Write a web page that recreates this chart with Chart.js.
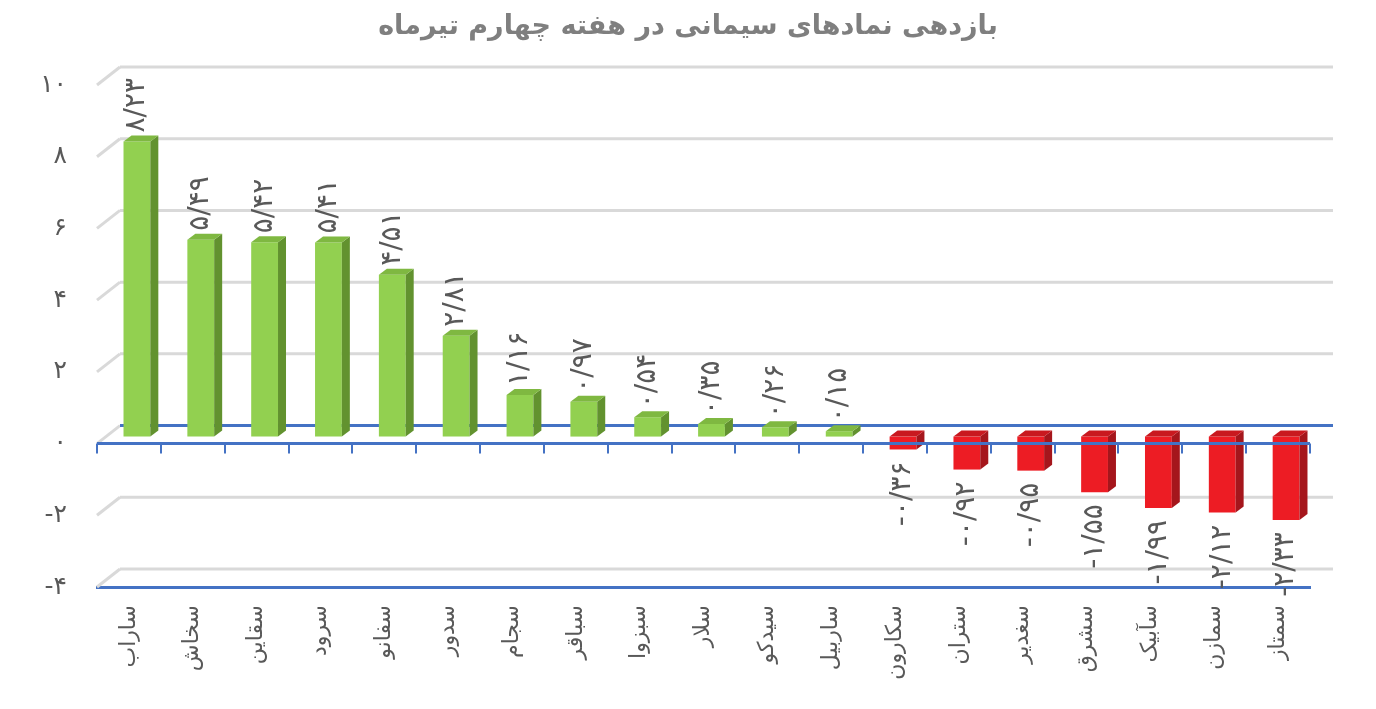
<!DOCTYPE html>
<html>
<head>
<meta charset="utf-8">
<script src="https://cdn.jsdelivr.net/npm/chart.js@4/dist/chart.umd.min.js"></script>
<style>
  body { margin: 0; background: #fff; }
  #wrap { width: 1376px; height: 709px; }
</style>
</head>
<body>
<div id="wrap"><canvas id="chart"></canvas></div>
<script>
const categories = ["ساراب", "سخاش", "سقاین", "سرود", "سفانو", "سدور", "سجام", "سباقر", "سبزوا", "سلار",
  "سیدکو", "ساربیل", "سکارون", "ستران", "سغدیر", "سشرق", "سآبیک", "سمازن", "سمتاز"];
const returns = [8.23, 5.49, 5.42, 5.41, 4.51, 2.81, 1.16, 0.97, 0.54, 0.35, 0.26, 0.15,
  -0.36, -0.92, -0.95, -1.55, -1.99, -2.12, -2.33];
const yTicks = [-4, -2, 0, 2, 4, 6, 8, 10];
const title = "بازدهی نمادهای سیمانی در هفته چهارم تیرماه";

const faDigits = "۰۱۲۳۴۵۶۷۸۹";
function toFa(s) {
  return String(s).replace(/[0-9]/g, d => faDigits[d]).replace(".", "/");
}

const FONT = "'DejaVu Sans', sans-serif";
const wallDx = 23, wallDy = 18;   // back wall offset
const barDx = 8, barDy = -7;      // bars sit mid-depth
const sideDx = 8, sideDy = 6;     // bar depth
const gridGray = "#d9d9d9";
const axisBlue = "#4472c4";

const depth3d = {
  id: "depth3d",
  beforeDraw(chart) {
    const ctx = chart.ctx;
    ctx.save();
    ctx.fillStyle = "#7f7f7f";
    ctx.font = "bold 27px " + FONT;
    ctx.textAlign = "center";
    ctx.textBaseline = "middle";
    ctx.fillText(title, chart.width / 2, 27);
    ctx.restore();
  },
  beforeDatasetsDraw(chart) {
    const { ctx, chartArea: a, scales: { y } } = chart;
    ctx.save();
    ctx.lineWidth = 3;
    yTicks.forEach(v => {
      const py = y.getPixelForValue(v);
      ctx.strokeStyle = gridGray;
      ctx.beginPath();
      ctx.moveTo(a.left, py);
      ctx.lineTo(a.left + wallDx, py - wallDy);
      ctx.stroke();
      ctx.strokeStyle = v === 0 ? axisBlue : gridGray;
      ctx.beginPath();
      ctx.moveTo(a.left + wallDx, py - wallDy);
      ctx.lineTo(a.right + wallDx, py - wallDy);
      ctx.stroke();
    });
    ctx.restore();
    ctx.save();
    ctx.translate(barDx, barDy);
  },
  afterDatasetsDraw(chart) {
    const { ctx, chartArea: a, scales: { y } } = chart;
    const bars = chart.getDatasetMeta(0).data;
    bars.forEach((el, i) => {
      const pos = returns[i] >= 0;
      const l = el.x - el.width / 2, r = el.x + el.width / 2;
      const t = Math.min(el.y, el.base), b = Math.max(el.y, el.base);
      ctx.fillStyle = pos ? "#62922f" : "#a5161c";
      ctx.beginPath();
      ctx.moveTo(r, t); ctx.lineTo(r + sideDx, t - sideDy);
      ctx.lineTo(r + sideDx, b - sideDy); ctx.lineTo(r, b);
      ctx.closePath(); ctx.fill();
      ctx.fillStyle = pos ? "#7fb841" : "#c9191f";
      ctx.beginPath();
      ctx.moveTo(l, t); ctx.lineTo(l + sideDx, t - sideDy);
      ctx.lineTo(r + sideDx, t - sideDy); ctx.lineTo(r, t);
      ctx.closePath(); ctx.fill();
    });
    ctx.restore();

    // front zero line with category ticks
    const y0 = y.getPixelForValue(0);
    ctx.save();
    ctx.strokeStyle = axisBlue;
    ctx.lineWidth = 3;
    ctx.beginPath();
    ctx.moveTo(a.left, y0); ctx.lineTo(a.right, y0);
    ctx.stroke();
    ctx.lineWidth = 2;
    const step = (a.right - a.left) / categories.length;
    for (let i = 0; i <= categories.length; i++) {
      const px = Math.round(a.left + i * step);
      ctx.beginPath();
      ctx.moveTo(px, y0); ctx.lineTo(px, y0 + 10);
      ctx.stroke();
    }

    // value labels
    ctx.fillStyle = "#595959";
    ctx.font = "28px " + FONT;
    ctx.textBaseline = "middle";
    bars.forEach((el, i) => {
      const v = returns[i];
      const px = el.x + barDx;
      ctx.save();
      if (v >= 0) {
        ctx.translate(px, el.y + barDy - sideDy - 3);
        ctx.rotate(-Math.PI / 2);
        ctx.textAlign = "left";
      } else {
        ctx.translate(px, el.y + barDy + 12);
        ctx.rotate(-Math.PI / 2);
        ctx.textAlign = "right";
      }
      ctx.fillText(toFa(v.toFixed(2)), 0, 0);
      ctx.restore();
    });
    ctx.restore();
  }
};

new Chart(document.getElementById("chart"), {
  type: "bar",
  data: {
    labels: categories,
    datasets: [{
      data: returns,
      backgroundColor: returns.map(v => v >= 0 ? "#92d050" : "#ed1c24"),
      barPercentage: 0.42,
      categoryPercentage: 1
    }]
  },
  options: {
    responsive: true,
    maintainAspectRatio: false,
    animation: false,
    layout: { padding: { left: 0, right: 66, top: 85, bottom: 0 } },
    plugins: {
      legend: { display: false },
      tooltip: { enabled: false },
      title: { display: false }
    },
    scales: {
      x: {
        grid: { display: false },
        border: { display: true, color: axisBlue, width: 3 },
        ticks: {
          minRotation: 90, maxRotation: 90,
          padding: 10,
          color: "#595959",
          font: { family: FONT, size: 22 }
        },
        afterFit(scale) { scale.height = 122; }
      },
      y: {
        min: -4, max: 10,
        grid: { display: false },
        border: { display: false },
        afterBuildTicks(scale) { scale.ticks = yTicks.map(v => ({ value: v })); },
        afterFit(scale) { scale.width = 97; },
        ticks: {
          padding: 22,
          color: "#595959",
          font: { family: FONT, size: 25 },
          callback: v => toFa(v)
        }
      }
    }
  },
  plugins: [depth3d]
});
</script>
</body>
</html>
